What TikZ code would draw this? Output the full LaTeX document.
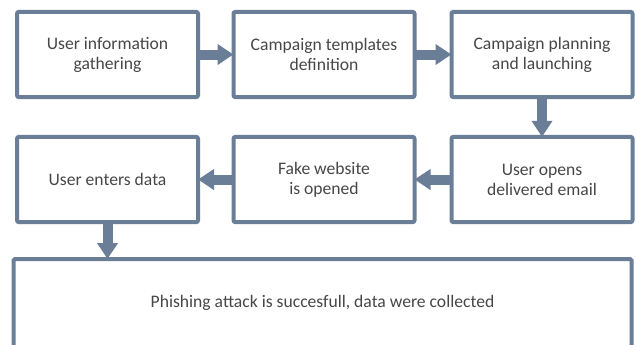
\documentclass[tikz,border=0pt]{standalone}
\usepackage{fontspec}
\setmainfont{Carlito}
\usetikzlibrary{arrows.meta}
\definecolor{edge}{HTML}{6A7F97}
\definecolor{txt}{HTML}{474747}
\tikzset{
  stepbox/.style={draw=edge, line width=3pt, rounded corners=1.5pt, fill=white,
    minimum width=135.75pt, minimum height=64pt, align=center, text=txt,
    font=\fontsize{13.2}{15}\selectfont, inner sep=0pt, outer sep=0pt},
  flow/.style={draw=edge, line width=7.5pt, -{Triangle[length=12pt, width=15pt]}, shorten <=-0.5pt}
}
\begin{document}
\begin{tikzpicture}[x=0.75pt, y=-0.75pt]
\useasboundingbox (0,0) rectangle (636,344);
\fill[white] (0,0) rectangle (636,344);
\node[stepbox] (b1) at (107.5,54.5) {User information\\gathering};
\node[stepbox] (b2) at (324,54.5) {Campaign templates\\definition};
\node[stepbox] (b3) at (542,54.5) {Campaign planning\\and launching};
\node[stepbox] (b6) at (542,179.5) {User opens\\delivered email};
\node[stepbox] (b5) at (324,179.5) {Fake website\\is opened};
\node[stepbox] (b4) at (107.5,179.5) {User enters data};
\begin{scope}
\clip (0,0) rectangle (636,344);
\node[stepbox, minimum width=463.5pt, minimum height=66pt, rounded corners=1pt] (bot) at (322.5,303) {Phishing attack is succesfull, data were collected};
\end{scope}
\draw[flow] (b1.east) -- (b2.west);
\draw[flow] (b2.east) -- (b3.west);
\draw[flow] (b3.south) -- (b6.north);
\draw[flow] (b6.west) -- (b5.east);
\draw[flow] (b5.west) -- (b4.east);
\draw[flow] (b4.south) -- (b4.south |- bot.north);
\end{tikzpicture}
\end{document}
